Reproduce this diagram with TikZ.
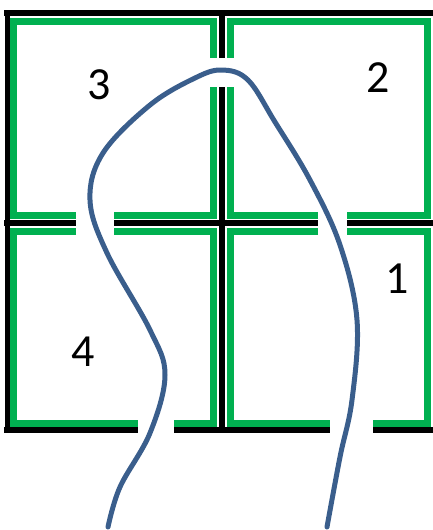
\documentclass[tikz,border=0pt]{standalone}
\usepackage{fontspec}
\setmainfont{Carlito}
\definecolor{gridgreen}{RGB}{0,176,80}
\definecolor{pathblue}{RGB}{58,94,140}
\tikzset{
  wall/.style={line width=5.5pt, black, line cap=butt},
  lining/.style={line width=7pt, gridgreen, line cap=butt, line join=miter},
  route/.style={line width=5pt, pathblue, line cap=round},
  roomlabel/.style={inner sep=0pt, font=\fontsize{46}{46}\selectfont}
}
\begin{document}
\begin{tikzpicture}[x=1pt,y=-1pt]
\useasboundingbox (0,0) rectangle (433,530);
% black walls
\draw[wall] (4,13) -- (433,13);
\draw[wall] (7.5,10) -- (7.5,433);
\draw[wall] (222,10) -- (222,58);
\draw[wall] (222,87) -- (222,433);
\draw[wall] (4,223) -- (76,223);
\draw[wall] (114,223) -- (318,223);
\draw[wall] (347,223) -- (433,223);
\draw[wall] (4,430) -- (138,430);
\draw[wall] (174,430) -- (330,430);
\draw[wall] (373,430) -- (433,430);
% green linings
% room 3 (top-left)
\draw[lining] (213.5,58) -- (213.5,21) -- (13,21) -- (13,215) -- (76,215);
\draw[lining] (114,215) -- (213.5,215) -- (213.5,87);
% room 2 (top-right)
\draw[lining] (230,58) -- (230,21) -- (427.5,21) -- (427.5,215) -- (347,215);
\draw[lining] (318,215) -- (230,215) -- (230,87);
% room 4 (bottom-left)
\draw[lining] (76,231) -- (13,231) -- (13,423.5) -- (138,423.5);
\draw[lining] (174,423.5) -- (213.5,423.5) -- (213.5,231) -- (114,231);
% room 1 (bottom-right)
\draw[lining] (318,231) -- (230,231) -- (230,423.5) -- (330,423.5);
\draw[lining] (373,423.5) -- (427.5,423.5) -- (427.5,231) -- (347,231);
% labels
\node[roomlabel] (r3) at (99,85) {3};
\node[roomlabel] (r2) at (378,78) {2};
\node[roomlabel] (r1) at (397,279) {1};
\node[roomlabel] (r4) at (83,352) {4};
% route
\draw[route] plot[smooth, tension=0.6] coordinates {
  (108,527) (120,487) (150,433) (165,375) (150,330)
  (107,253) (90,200) (103,153) (150,105) (195,78)
  (222,70) (248,80) (275,122) (310,180) (340,245)
  (357,320) (352,400) (340,457) (327,527)};
\end{tikzpicture}
\end{document}
